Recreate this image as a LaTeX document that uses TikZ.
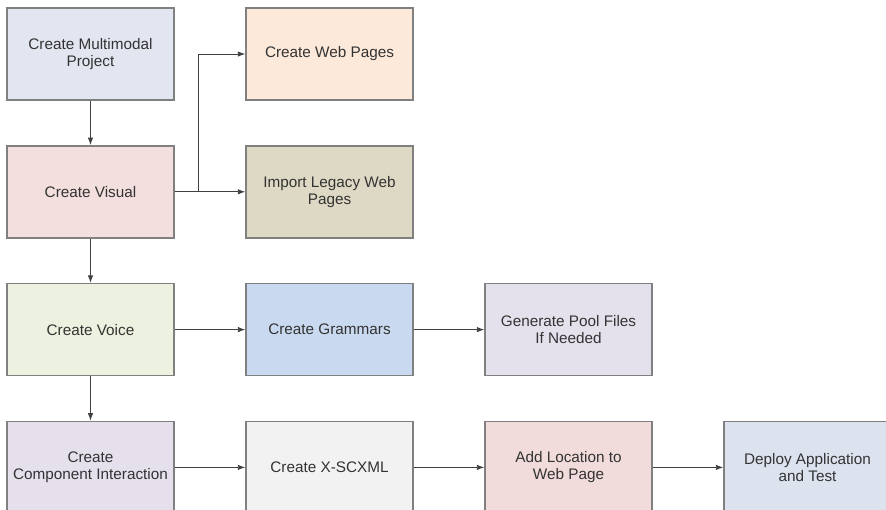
\documentclass[tikz,border=0pt]{standalone}
\usepackage{fontspec}
\setmainfont{Liberation Sans}
\usetikzlibrary{positioning, arrows.meta}

\definecolor{boxline}{HTML}{808080}
\definecolor{arrline}{HTML}{404040}
\definecolor{txt}{HTML}{333333}
\definecolor{projectfill}{HTML}{E1E6F0}
\definecolor{visualfill}{HTML}{F2DFDE}
\definecolor{voicefill}{HTML}{EDF1DF}
\definecolor{componentfill}{HTML}{E5E0EC}
\definecolor{webfill}{HTML}{FCE9DA}
\definecolor{legacyfill}{HTML}{DDD9C4}
\definecolor{grammarfill}{HTML}{C9D9EF}
\definecolor{poolfill}{HTML}{E5E1EC}
\definecolor{scxmlfill}{HTML}{F2F2F2}
\definecolor{locationfill}{HTML}{F2DCDB}
\definecolor{deployfill}{HTML}{DCE3EF}

\tikzset{
    task/.style={draw=boxline, line width=1.4pt, minimum width=167pt, minimum height=92pt,
        align=center, text=txt, font=\fontsize{15.3}{17}\selectfont, inner sep=2pt},
    flow/.style={draw=arrline, line width=0.9pt, -{Latex[length=7.5pt,width=5.5pt]}},
}

\begin{document}
\begin{tikzpicture}[x=1pt, y=-1pt, node distance=44.4pt and 70.6pt]
\useasboundingbox (0,0) rectangle (886,509);
% left column: main steps
\node[task, fill=projectfill] (project) at (90.5,54) {Create Multimodal\\Project};
\node[task, fill=visualfill, below=of project] (visual) {Create Visual};
\node[task, fill=voicefill, below=of visual] (voice) {Create Voice};
\node[task, fill=componentfill, below=of voice] (component) {Create\\Component Interaction};
% side steps
\node[task, fill=webfill, right=of project] (webpages) {Create Web Pages};
\node[task, fill=legacyfill, right=of visual] (legacy) {Import Legacy Web\\Pages};
\node[task, fill=grammarfill, right=of voice] (grammars) {Create Grammars};
\node[task, fill=poolfill, right=of grammars] (pool) {Generate Pool Files\\If Needed};
\node[task, fill=scxmlfill, right=of component] (scxml) {Create X-SCXML};
\node[task, fill=locationfill, right=of scxml] (location) {Add Location to\\Web Page};
\node[task, fill=deployfill, right=of location] (deploy) {Deploy Application\\and Test};

\draw[flow] (project) -- (visual);
\draw[flow] (visual) -- (voice);
\draw[flow] (voice) -- (component);
\draw[flow] (visual.east) -- (legacy.west);
\draw[flow] (visual.east) -- ++(24,0) |- (webpages.west);
\draw[flow] (voice) -- (grammars);
\draw[flow] (grammars) -- (pool);
\draw[flow] (component) -- (scxml);
\draw[flow] (scxml) -- (location);
\draw[flow] (location) -- (deploy);
\end{tikzpicture}
\end{document}
